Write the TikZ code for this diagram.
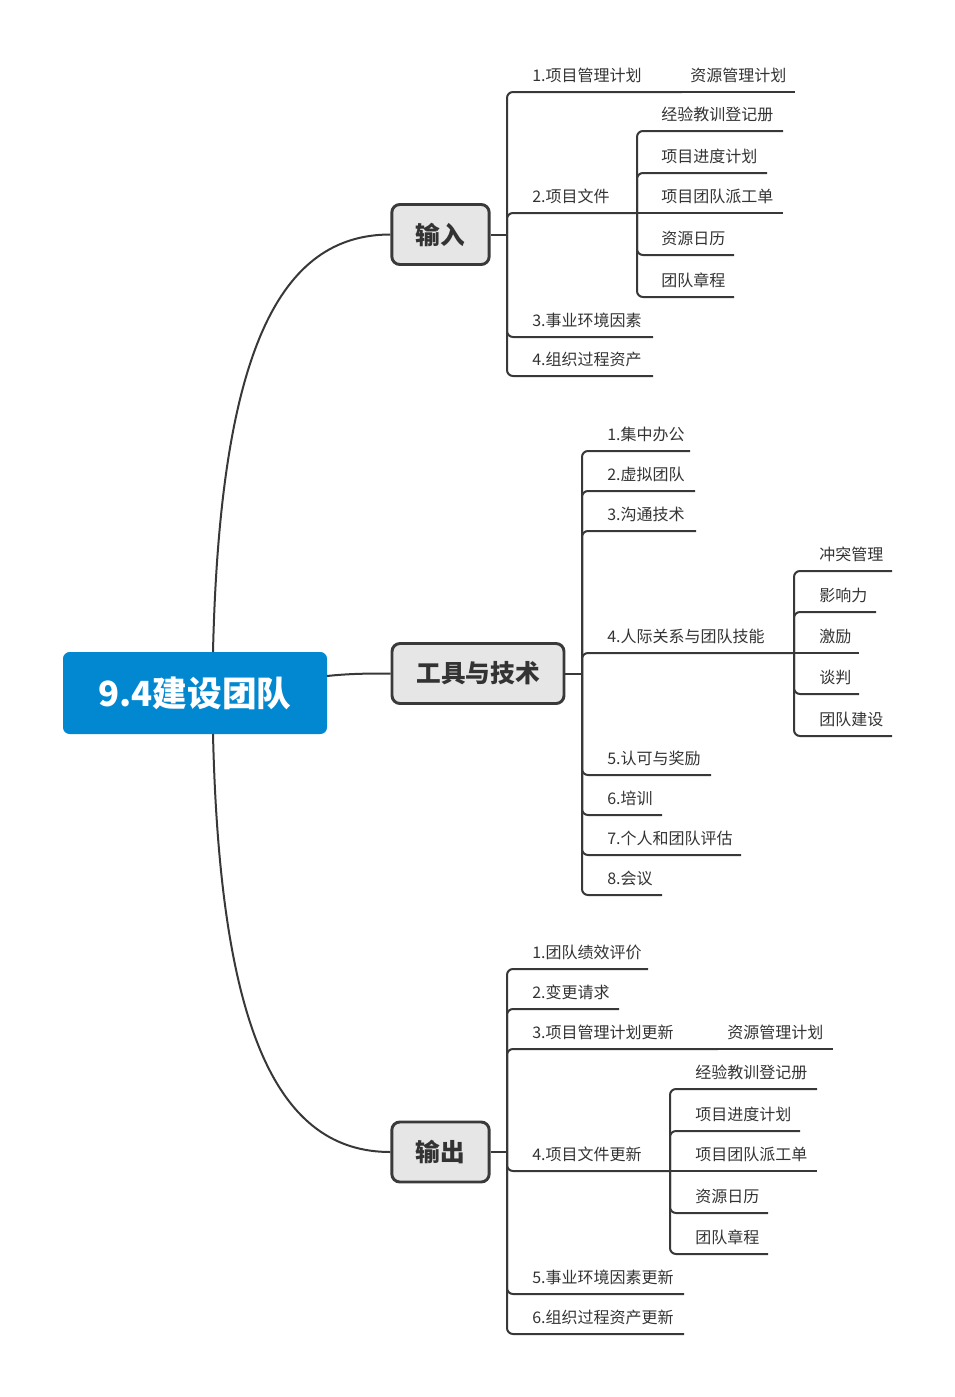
\documentclass[tikz,border=0pt]{standalone}
\usepackage{fontspec}
\setmainfont{Noto Sans CJK SC}
\definecolor{linec}{HTML}{383838}
\definecolor{txt}{HTML}{333333}
\definecolor{boxf}{HTML}{E6E6E6}
\definecolor{boxd}{HTML}{3A3A3A}
\definecolor{cblue}{HTML}{0288D1}
\newcommand\leaf[6]{%
  \node[lbl] (#1) at (#3,#4-17) {#6};
  \coordinate (#1e) at (#5,#4);
  \draw[br] (#2) |- (#1e);
}
\newcommand\leafstraight[6]{%
  \node[lbl] (#1) at (#3,#4-17) {#6};
  \coordinate (#1e) at (#5,#4);
  \draw[br] (#2) -- (#1e);
}
\begin{document}
\begin{tikzpicture}[x=0.75pt,y=-0.75pt,
  br/.style={draw=linec, line width=1.5pt, rounded corners=4.5pt},
  lbl/.style={anchor=west, inner sep=0pt, font=\fontsize{12}{12}\selectfont, text=txt},
  topic/.style={draw=boxd, fill=boxf, line width=2.2pt, rounded corners=6pt,
    font=\fontsize{18.5}{20}\selectfont\bfseries, text=txt, inner sep=0pt, minimum height=45pt},
  root/.style={fill=cblue, rounded corners=5pt, font=\fontsize{26}{28}\selectfont\bfseries,
    text=white, inner sep=0pt, minimum width=198pt, minimum height=61.5pt},
  curve/.style={draw=linec, line width=1.5pt}
]
\useasboundingbox (0,0) rectangle (955,1397);

% root and topics
\node[root] (root) at (195,693) {9.4建设团队};
\node[topic, minimum width=73pt] (in) at (440.5,234.5) {输入};
\node[topic, minimum width=129pt] (tools) at (478,673.5) {工具与技术};
\node[topic, minimum width=73pt] (out) at (440.5,1152) {输出};

\coordinate (rt) at (213,652);
\coordinate (rb) at (213,734);
\coordinate (rr) at (327,676);
\draw[curve] (rt) .. controls (220,350) and (280,234.5) .. (in.west);
\draw[curve] (rr) .. controls (350,673.5) and (370,673.5) .. (tools.west);
\draw[curve] (rb) .. controls (220,1036) and (280,1152) .. (out.west);

% ---------- 输入 ----------
\coordinate (ja) at (507,234.5);
\draw[br] (in.east) -- (ja);
\leaf{a1}{ja}{532}{92}{682}{1.项目管理计划}
\leafstraight{a1a}{a1e}{690}{92}{795}{资源管理计划}
\leaf{a2}{ja}{532}{213}{637}{2.项目文件}
\leaf{a21}{a2e}{661}{131}{783}{经验教训登记册}
\leaf{a22}{a2e}{661}{173}{767}{项目进度计划}
\leafstraight{a23}{a2e}{661}{213}{783}{项目团队派工单}
\leaf{a24}{a2e}{661}{255}{734}{资源日历}
\leaf{a25}{a2e}{661}{297}{734}{团队章程}
\leaf{a3}{ja}{532}{337}{653}{3.事业环境因素}
\leaf{a4}{ja}{532}{376}{653}{4.组织过程资产}

% ---------- 工具与技术 ----------
\coordinate (jb) at (582,673.5);
\draw[br] (tools.east) -- (jb);
\leaf{b1}{jb}{607}{451}{690}{1.集中办公}
\leaf{b2}{jb}{607}{491}{695}{2.虚拟团队}
\leaf{b3}{jb}{607}{531}{696}{3.沟通技术}
\leaf{b4}{jb}{607}{653}{794}{4.人际关系与团队技能}
\leaf{b41}{b4e}{819}{571}{892}{冲突管理}
\leaf{b42}{b4e}{819}{612}{876}{影响力}
\leafstraight{b43}{b4e}{819}{653}{859}{激励}
\leaf{b44}{b4e}{819}{694}{859}{谈判}
\leaf{b45}{b4e}{819}{736}{892}{团队建设}
\leaf{b5}{jb}{607}{775}{711}{5.认可与奖励}
\leaf{b6}{jb}{607}{815}{662}{6.培训}
\leaf{b7}{jb}{607}{855}{741}{7.个人和团队评估}
\leaf{b8}{jb}{607}{895}{662}{8.会议}

% ---------- 输出 ----------
\coordinate (jc) at (507,1152);
\draw[br] (out.east) -- (jc);
\leaf{c1}{jc}{532}{969}{648}{1.团队绩效评价}
\leaf{c2}{jc}{532}{1009}{619}{2.变更请求}
\leaf{c3}{jc}{532}{1049}{718}{3.项目管理计划更新}
\leafstraight{c3a}{c3e}{727}{1049}{833}{资源管理计划}
\leaf{c4}{jc}{532}{1171}{670}{4.项目文件更新}
\leaf{c41}{c4e}{695}{1089}{817}{经验教训登记册}
\leaf{c42}{c4e}{695}{1131}{800}{项目进度计划}
\leafstraight{c43}{c4e}{695}{1171}{817}{项目团队派工单}
\leaf{c44}{c4e}{695}{1213}{768}{资源日历}
\leaf{c45}{c4e}{695}{1254}{768}{团队章程}
\leaf{c5}{jc}{532}{1294}{684}{5.事业环境因素更新}
\leaf{c6}{jc}{532}{1334}{684}{6.组织过程资产更新}
\end{tikzpicture}
\end{document}
